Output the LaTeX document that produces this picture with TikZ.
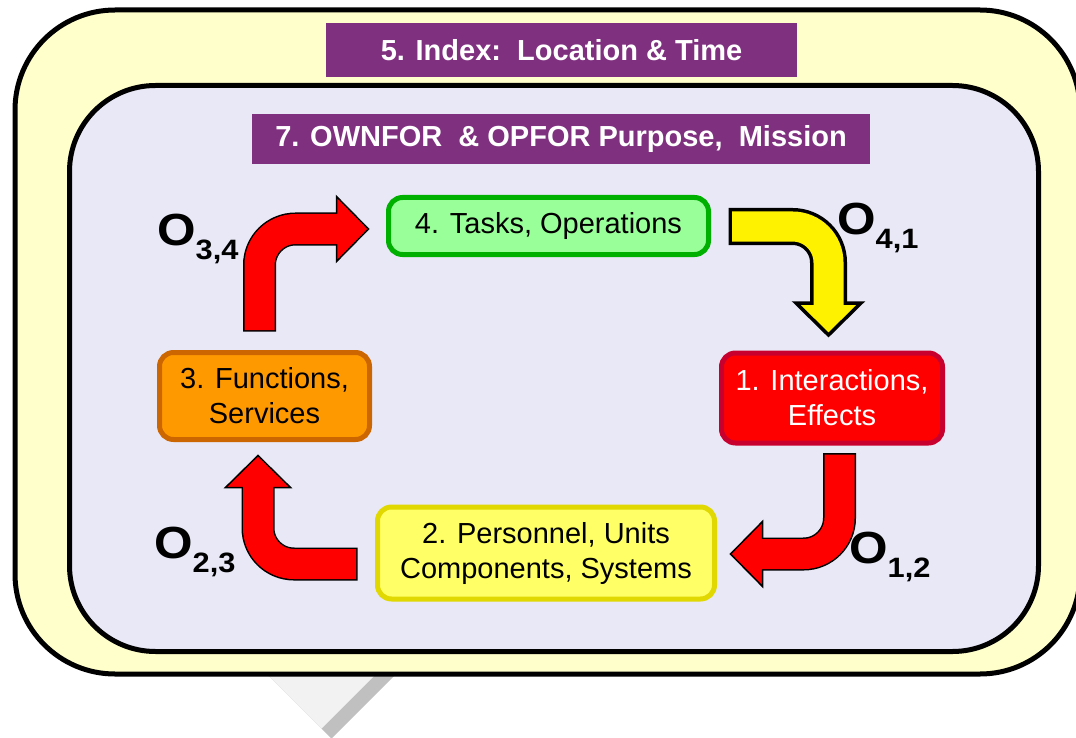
\documentclass[tikz,border=0pt]{standalone}
\usepackage{fontspec}
\usepackage{graphicx}
\setmainfont{Liberation Sans}
\usetikzlibrary{calc, positioning}

\definecolor{outerfill}{RGB}{255,255,204}
\definecolor{innerfill}{RGB}{232,232,247}
\definecolor{bannerpurple}{RGB}{127,49,127}
\definecolor{taskfill}{RGB}{153,255,153}
\definecolor{taskline}{RGB}{0,176,0}
\definecolor{interline}{RGB}{200,0,45}
\definecolor{persfill}{RGB}{255,255,102}
\definecolor{persline}{RGB}{224,216,0}
\definecolor{funcfill}{RGB}{255,153,0}
\definecolor{funcline}{RGB}{204,102,0}
\definecolor{tailface}{RGB}{242,242,242}
\definecolor{tailedge}{RGB}{192,192,192}

% O label with subscript
\newcommand{\olab}[1]{\scalebox{1.1}[1]{\fontsize{45}{45}\selectfont O\fontsize{28}{28}\selectfont\raisebox{-14pt}{#1}}}

% bent block arrow: start, path op, head base, angle, fill, outline, outer shaft width
\newcommand{\bentarrow}[7]{%
  \draw[line width=#7, rounded corners=36pt] (#1) #2 (#3);
  \fill[#5, shift={(#3)}, rotate=#4] (0,-32.5) -- (32,0) -- (0,32.5) -- cycle;
  \draw[line width=#6, line join=miter, shift={(#3)}, rotate=#4]
    (0,-14) -- (0,-32.5) -- (32,0) -- (0,32.5) -- (0,14);
  \draw[#5, line width=30pt, rounded corners=36pt, shorten <=#6, shorten >=-2pt] (#1) #2 (#3);
}

\begin{document}
\begin{tikzpicture}[x=1pt, y=-1pt,
    box/.style={draw, line width=5pt, rounded corners=14pt, align=center,
      inner sep=0pt, font=\fontsize{29}{35}\selectfont},
    banner/.style={fill=bannerpurple, text=white, inner sep=0pt,
      font=\bfseries\fontsize{29}{34}\selectfont},
    olabel/.style={anchor=base west, inner sep=0pt, font=\bfseries}]
    \useasboundingbox (0,0) rectangle (1076,738);

    % Callout
    \fill[tailedge] (253,660) -- (410,660) -- (331.5,738.5) -- cycle;
    \fill[tailface] (253,660) -- (390,660) -- (321.5,728.5) -- cycle;
    \draw[line width=5pt, fill=outerfill, rounded corners=100pt] (15,10) rectangle (1080,674);
    \draw[line width=5pt, fill=innerfill, rounded corners=86pt] (69.5,85.5) rectangle (1038.5,651.5);

    % Banners
    \node[banner, minimum width=471, minimum height=54] (index) at (561.5,50) {5. Index:\ \ Location \& Time};
    \node[banner, minimum width=618, minimum height=50] (purpose) at (561,139) {7. OWNFOR\ \ \& OPFOR Purpose,\ \ Mission};

    % Nodes
    \node[box, draw=taskline, fill=taskfill, minimum width=320, minimum height=57] (tasks) at (548.5,226) {4. Tasks, Operations};
    \node[box, draw=interline, fill=red, text=white, minimum width=221, minimum height=90] (inter) at (832,398) {1. Interactions,\\Effects};
    \node[box, draw=persline, fill=persfill, minimum width=337, minimum height=92] (pers) at (546,553) {2. Personnel, Units\\Components, Systems};
    \node[box, draw=funcline, fill=funcfill, minimum width=210, minimum height=87] (func) at (264.5,396) {3. Functions,\\Services};

    % Arrows
    \coordinate (a34s) at ($(func.north)+(-5,-18.5)$);
    \coordinate (a34e) at ($(tasks.west)+(-49.5,3)$);
    \coordinate (a41s) at ($(tasks.east)+(17.5,0.5)$);
    \coordinate (a41e) at ($(inter.north)+(-3.5,-47.5)$);
    \coordinate (a12s) at ($(inter.south)+(7.5,7.5)$);
    \coordinate (a12e) at ($(pers.east)+(45.5,1)$);
    \coordinate (a23s) at ($(pers.west)+(-17.5,11)$);
    \coordinate (a23e) at ($(func.south)+(-6.5,45.5)$);
    \bentarrow{a34s}{|-}{a34e}{0}{red}{1.5pt}{33pt}
    \bentarrow{a41s}{-|}{a41e}{-90}{yellow}{3.5pt}{37pt}
    \bentarrow{a12s}{|-}{a12e}{180}{red}{1.5pt}{33pt}
    \bentarrow{a23s}{-|}{a23e}{90}{red}{1.5pt}{33pt}

    % Labels
    \node[olabel] (o34) at (157,245) {\olab{3,4}};
    \node[olabel] (o41) at (837,234) {\olab{4,1}};
    \node[olabel] (o12) at (849,563) {\olab{1,2}};
    \node[olabel] (o23) at (154,558) {\olab{2,3}};
\end{tikzpicture}
\end{document}
